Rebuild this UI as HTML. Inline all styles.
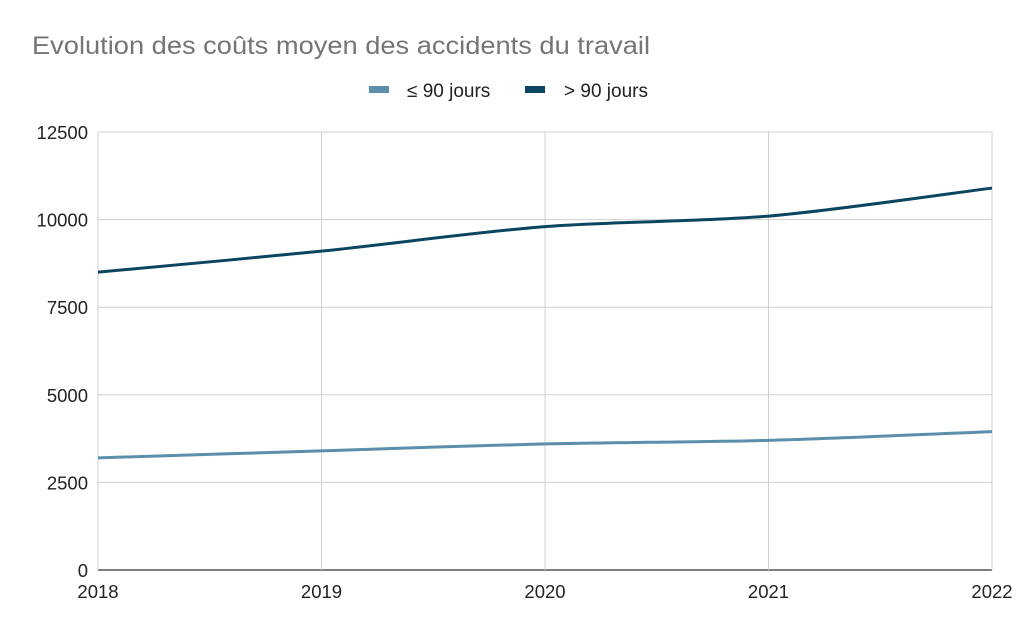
<!DOCTYPE html>
<html><head><meta charset="utf-8"><style>
body{margin:0;background:#fff;font-family:"Liberation Sans",sans-serif}
</style></head><body>
<svg id="chart" width="1024" height="633" xmlns="http://www.w3.org/2000/svg">
<text x="32" y="54" font-size="25" fill="#757575" textLength="618" lengthAdjust="spacingAndGlyphs">Evolution des coûts moyen des accidents du travail</text>
<g>
<rect x="369" y="86" width="20" height="7" fill="#5b8fac"/>
<text x="407" y="97" font-size="19" fill="#222">≤ 90 jours</text>
<rect x="525" y="86" width="20" height="7" fill="#0b4661"/>
<text x="564" y="97" font-size="19" fill="#222">&gt; 90 jours</text>
</g>
<g id="grid"></g><g id="series"></g><g id="labels"></g>
</svg>
<script>
const categories=["2018","2019","2020","2021","2022"];
const le90=[3200,3400,3600,3700,3950];
const gt90=[8500,9100,9800,10100,10900];
const yTicks=[0,2500,5000,7500,10000,12500];
const NS="http://www.w3.org/2000/svg";
const X0=98,X1=992,Y0=570,Y1=132,YMAX=12500;
const xs=i=>X0+(X1-X0)*i/(categories.length-1);
const ys=v=>Y0-(Y0-Y1)*v/YMAX;
function mk(t,a,p){const e=document.createElementNS(NS,t);for(const k in a)e.setAttribute(k,a[k]);p.appendChild(e);return e;}
const grid=document.getElementById('grid'),lab=document.getElementById('labels'),ser=document.getElementById('series');
yTicks.forEach(v=>{
 const l=mk('line',{x1:X0,x2:X1,y1:ys(v),y2:ys(v),stroke:v===0?'#333':'#d0d0d0','stroke-width':v===0?1.3:1},grid);
 
 
 const t=mk('text',{x:88,y:ys(v)+7,'text-anchor':'end','font-size':18.5,fill:'#222'},lab);
 t.textContent=v;
 
 
});
categories.forEach((c,i)=>{
 const l=mk('line',{x1:xs(i),x2:xs(i),y1:Y1,y2:Y0,stroke:'#d0d0d0','stroke-width':1},grid);
 
 
 const t=mk('text',{x:xs(i),y:598,'text-anchor':'middle','font-size':18.5,fill:'#222'},lab);
 t.textContent=c;
 
 
});
function path(vals){
 const p=vals.map((v,i)=>[xs(i),ys(v)]);
 let d='M'+p[0][0]+','+p[0][1];
 for(let i=0;i<p.length-1;i++){
  const a=p[Math.max(0,i-1)],b=p[i],c=p[i+1],e=p[Math.min(p.length-1,i+2)];
  const k=0.15;
  d+=' C'+(b[0]+(c[0]-a[0])*k)+','+(b[1]+(c[1]-a[1])*k)+' '+(c[0]-(e[0]-b[0])*k)+','+(c[1]-(e[1]-b[1])*k)+' '+c[0]+','+c[1];
 }
 return d;
}
const s1=mk('path',{d:path(le90),fill:'none',stroke:'#5b8fac','stroke-width':3},ser);


const s2=mk('path',{d:path(gt90),fill:'none',stroke:'#0b4661','stroke-width':3},ser);


</script>
</body></html>
